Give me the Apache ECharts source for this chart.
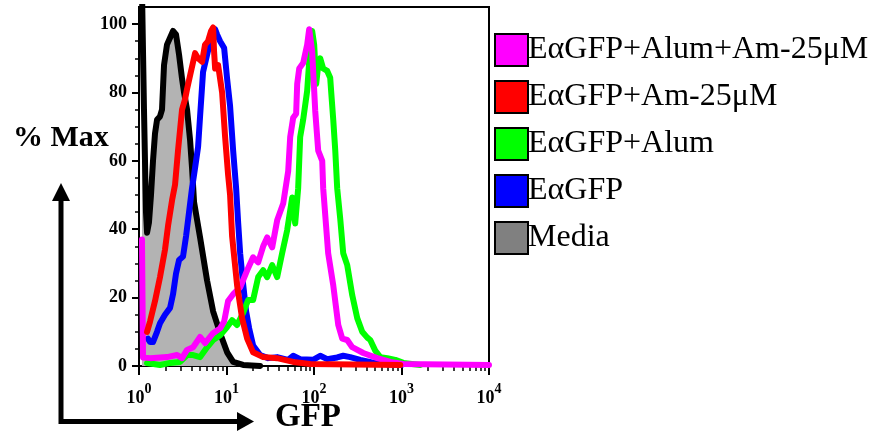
<!DOCTYPE html>
<html>
<head>
<meta charset="utf-8">
<script src="https://cdn.jsdelivr.net/npm/echarts@6/dist/echarts.min.js"></script>
<style>
  html, body { margin: 0; padding: 0; background: #fff; }
  #chart { width: 877px; height: 433px; }
</style>
</head>
<body>
<div id="chart"></div>
<script>
// GFP histograms: x is log10(GFP intensity), y is % of the series maximum.
const FONT = '"Liberation Serif", "Times New Roman", serif';

const seriesNames = ['EαGFP+Alum+Am-25μM', 'EαGFP+Am-25μM', 'EαGFP+Alum', 'EαGFP', 'Media'];
const legendColors = ['#ff00ff', '#ff0000', '#00ff00', '#0000ff', '#808080'];

// [log10 GFP, % Max]
const media = [
  [0.034, 110], [0.057, 75], [0.080, 45], [0.092, 39], [0.114, 42], [0.137, 50],
  [0.160, 60], [0.183, 68], [0.206, 72], [0.240, 73], [0.263, 75], [0.286, 88],
  [0.320, 94], [0.355, 96], [0.389, 98], [0.423, 97], [0.458, 91], [0.492, 84],
  [0.515, 80], [0.549, 75], [0.584, 66], [0.606, 58], [0.629, 48], [0.698, 37.6],
  [0.778, 25], [0.847, 16], [0.927, 9.6], [1.007, 4], [1.076, 1.2], [1.190, 0.3],
  [1.384, 0]
];

const egfp = [
  [0.103, 8], [0.126, 7], [0.160, 7], [0.206, 10], [0.240, 12.5], [0.297, 15],
  [0.355, 17], [0.389, 21], [0.423, 27], [0.458, 31], [0.503, 32], [0.538, 38],
  [0.572, 45], [0.606, 52], [0.641, 58], [0.675, 64], [0.698, 73], [0.732, 86],
  [0.778, 91], [0.824, 96], [0.870, 98.5], [0.892, 97], [0.927, 95], [0.973, 93],
  [1.007, 84], [1.041, 76], [1.076, 63], [1.110, 52], [1.133, 42], [1.156, 33],
  [1.190, 24], [1.224, 16], [1.259, 11], [1.304, 6], [1.384, 3.2], [1.476, 2.3],
  [1.579, 2.6], [1.705, 1.8], [1.762, 3.0], [1.842, 2.0], [1.990, 1.8], [2.071, 3.0],
  [2.151, 2.0], [2.265, 2.5], [2.334, 3.0], [2.414, 2.6], [2.529, 1.8], [2.677, 1.0],
  [2.838, 0.5], [3.0, 0.3]
];

const egfpAlum = [
  [0.092, 0.9], [0.240, 0.3], [0.355, 0.9], [0.469, 1.2], [0.549, 3.2], [0.618, 3.2],
  [0.698, 2.6], [0.778, 5.5], [0.847, 7.6], [0.927, 9], [1.007, 11.4], [1.064, 13.4],
  [1.121, 12], [1.190, 15.5], [1.247, 19.3], [1.304, 19.3], [1.362, 26], [1.419, 28],
  [1.465, 26], [1.522, 29.5], [1.579, 26], [1.636, 33], [1.693, 39.7], [1.751, 49.3],
  [1.785, 41.7], [1.819, 52], [1.842, 67], [1.876, 72], [1.922, 80.5], [1.945, 89],
  [1.979, 98], [2.002, 94], [2.025, 82.5], [2.048, 88], [2.071, 90], [2.105, 87],
  [2.151, 86.3], [2.185, 84.3], [2.197, 80], [2.220, 72], [2.243, 63], [2.265, 52],
  [2.300, 43], [2.334, 33], [2.380, 29.5], [2.437, 20.7], [2.494, 14], [2.551, 10],
  [2.609, 8.3], [2.643, 7.6], [2.700, 4.5], [2.757, 2.6], [2.838, 2.3], [2.929, 1.8],
  [3.021, 0.9], [3.215, 0.3]
];

const egfpAlumAm = [
  [0.034, 37], [0.046, 2.5], [0.126, 2.3], [0.320, 2.6], [0.435, 3.2], [0.492, 2.3],
  [0.549, 4.7], [0.618, 5.5], [0.698, 8.5], [0.755, 6.7], [0.847, 9.6], [0.927, 11],
  [0.973, 13], [1.018, 19], [1.076, 21], [1.156, 23], [1.236, 28], [1.304, 31.8],
  [1.362, 30.3], [1.419, 35], [1.465, 37.6], [1.522, 34.7], [1.579, 42.6], [1.648, 47.5],
  [1.705, 57], [1.728, 67], [1.762, 72.6], [1.796, 73.8], [1.808, 82.5], [1.831, 87],
  [1.876, 88.6], [1.922, 94], [1.945, 98.5], [1.979, 92], [2.014, 74.6], [2.048, 63],
  [2.094, 60], [2.105, 52], [2.162, 33], [2.220, 23.6], [2.277, 12], [2.323, 8],
  [2.380, 7.6], [2.437, 5.5], [2.563, 3.8], [2.723, 2.3], [2.872, 1.2], [3.021, 0.6],
  [4.0, 0.3]
];

const egfpAm = [
  [0.092, 10], [0.126, 13], [0.183, 19], [0.240, 26], [0.297, 34], [0.332, 41],
  [0.378, 48.5], [0.412, 53], [0.446, 63], [0.492, 75], [0.526, 78], [0.549, 81],
  [0.584, 85], [0.641, 91.5], [0.675, 90], [0.721, 89], [0.755, 94], [0.789, 95],
  [0.824, 98], [0.847, 99], [0.858, 92], [0.870, 87], [0.904, 88], [0.950, 80],
  [0.984, 67], [1.018, 56], [1.041, 50], [1.064, 38], [1.121, 23.6], [1.178, 14],
  [1.236, 8], [1.304, 4], [1.419, 2.6], [1.579, 2.3], [1.762, 1.2], [1.957, 0.6],
  [2.986, 0.3]
];

// axis ticks
const xDecades = [0, 1, 2, 3, 4];
const xMinorFactors = [2, 3, 4, 5, 6, 7, 8, 9];
const yMajor = [0, 20, 40, 60, 80, 100];
const yMinor = [5, 10, 15, 25, 30, 35, 45, 50, 55, 65, 70, 75, 85, 90, 95];

const xMinor = [];
xDecades.slice(0, -1).forEach(d => xMinorFactors.forEach(k => xMinor.push(d + Math.log10(k))));

function lineSeries(name, data, color, extra) {
  return Object.assign({
    name: name,
    type: 'line',
    data: data,
    xAxisIndex: 0,
    yAxisIndex: 0,
    showSymbol: false,
    symbol: 'none',
    smooth: false,
    clip: true,
    lineStyle: { color: color, width: 6, cap: 'round', join: 'round' },
    itemStyle: { color: color },
    emphasis: { disabled: true }
  }, extra || {});
}

const chart = echarts.init(document.getElementById('chart'), null, { renderer: 'canvas' });

const tickStyle = { color: '#000', width: 2 };

chart.setOption({
  animation: false,
  backgroundColor: '#fff',
  grid: {
    left: 139, right: 388, top: 7, bottom: 67,
    show: true, borderColor: '#000', borderWidth: 2, backgroundColor: 'transparent'
  },
  xAxis: [
    {
      type: 'value', min: 0, max: 4, position: 'bottom',
      axisLine: { show: true, lineStyle: { color: '#000', width: 2 } },
      axisTick: { show: true, customValues: xDecades, length: 9, lineStyle: tickStyle },
      axisLabel: {
        show: true, customValues: xDecades, margin: 16,
        formatter: v => '{b|10}{s|' + Math.round(v) + '}',
        rich: {
          b: { fontFamily: FONT, fontWeight: 'bold', fontSize: 18, color: '#000', lineHeight: 25, verticalAlign: 'bottom' },
          s: { fontFamily: FONT, fontWeight: 'bold', fontSize: 14, color: '#000', lineHeight: 13, verticalAlign: 'top' }
        }
      },
      splitLine: { show: false }
    },
    {
      type: 'value', min: 0, max: 4, position: 'bottom',
      axisLine: { show: false },
      axisTick: { show: true, customValues: xMinor, length: 5, lineStyle: { color: '#000', width: 1.5 } },
      axisLabel: { show: false },
      splitLine: { show: false }
    }
  ],
  yAxis: [
    {
      type: 'value', min: 0, max: 105, position: 'left',
      axisLine: { show: true, lineStyle: { color: '#000', width: 2 } },
      axisTick: { show: true, customValues: yMajor, length: 7, lineStyle: tickStyle },
      axisLabel: {
        show: true, customValues: yMajor, margin: 12,
        fontFamily: FONT, fontWeight: 'bold', fontSize: 18, color: '#000'
      },
      splitLine: { show: false }
    },
    {
      type: 'value', min: 0, max: 105, position: 'left',
      axisLine: { show: false },
      axisTick: { show: true, customValues: yMinor, length: 4, lineStyle: { color: '#000', width: 1.5 } },
      axisLabel: { show: false },
      splitLine: { show: false }
    }
  ],
  legend: {
    orient: 'vertical',
    left: 494, top: 33,
    padding: 0,
    itemWidth: 33, itemHeight: 32, itemGap: 13,
    icon: 'rect',
    selectedMode: false,
    textStyle: { fontFamily: FONT, fontSize: 32, color: '#000', padding: [6, 0, 0, -5] },
    data: seriesNames.map((n, i) => ({
      name: n,
      icon: 'rect',
      itemStyle: { color: legendColors[i], borderColor: '#000', borderWidth: 2 }
    }))
  },
  graphic: [
    {
      type: 'text', left: 13, top: 123,
      style: { text: '% Max', font: 'bold 30px ' + FONT, fill: '#000' }
    },
    {
      type: 'text', left: 275, top: 401,
      style: { text: 'GFP', font: 'bold 33px ' + FONT, fill: '#000' }
    },
    {
      type: 'polyline',
      shape: { points: [[61, 198], [61, 421.5], [239, 421.5]] },
      style: { stroke: '#000', lineWidth: 5, fill: null, lineJoin: 'miter', lineCap: 'butt' }
    },
    {
      type: 'polygon',
      shape: { points: [[61, 183], [52, 201], [70, 201]] },
      style: { fill: '#000' }
    },
    {
      type: 'polygon',
      shape: { points: [[254, 421.5], [237, 412], [237, 431]] },
      style: { fill: '#000' }
    }
  ],
  series: [
    lineSeries('Media', media, '#000000', { areaStyle: { color: '#b3b3b3', opacity: 1 } }),
    lineSeries('EαGFP', egfp, '#0000ff'),
    lineSeries('EαGFP+Alum', egfpAlum, '#00ff00'),
    lineSeries('EαGFP+Alum+Am-25μM', egfpAlumAm, '#ff00ff'),
    lineSeries('EαGFP+Am-25μM', egfpAm, '#ff0000')
  ]
});
</script>
</body>
</html>
